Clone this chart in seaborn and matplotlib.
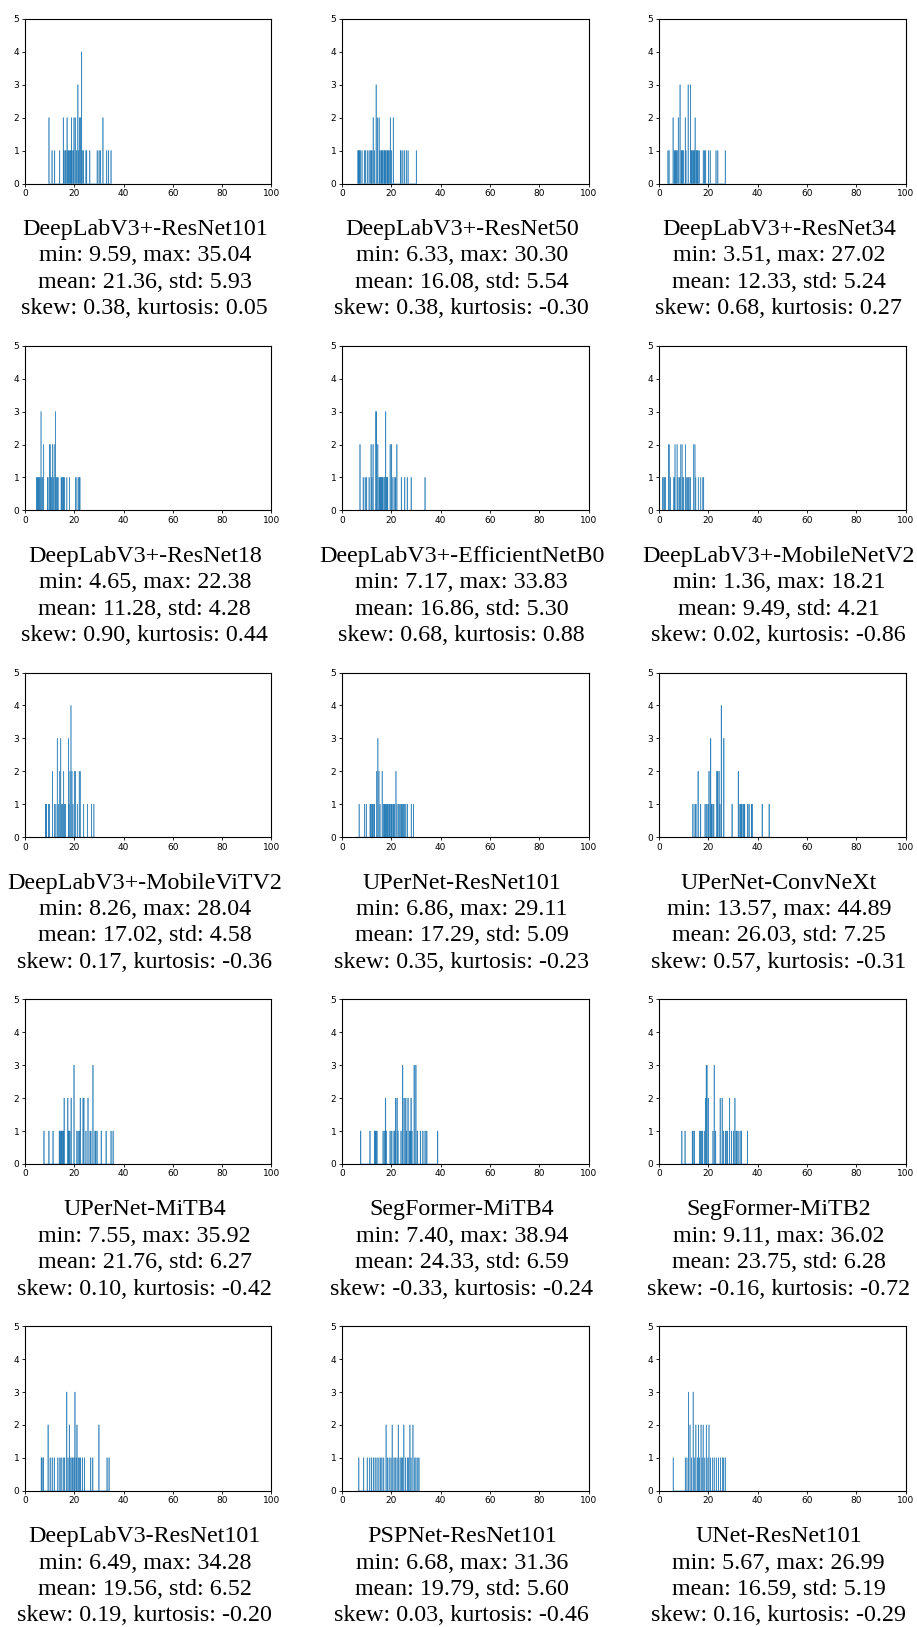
import matplotlib
matplotlib.use("Agg")
import matplotlib.pyplot as plt
import seaborn as sns

# Per-model distributions of the evaluation metric (one value per sample)
models = [
    "DeepLabV3+-ResNet101", "DeepLabV3+-ResNet50", "DeepLabV3+-ResNet34",
    "DeepLabV3+-ResNet18", "DeepLabV3+-EfficientNetB0", "DeepLabV3+-MobileNetV2",
    "DeepLabV3+-MobileViTV2", "UPerNet-ResNet101", "UPerNet-ConvNeXt",
    "UPerNet-MiTB4", "SegFormer-MiTB4", "SegFormer-MiTB2",
    "DeepLabV3-ResNet101", "PSPNet-ResNet101", "UNet-ResNet101",
]

vals_dlv3p_r101 = [9.59, 9.65, 11.1, 11.9, 14.0, 15.6, 15.6, 15.95, 16.3, 16.6, 17.0, 17.0,
                   17.4, 17.7, 18.0, 18.3, 18.6, 18.9, 18.9, 19.25, 19.6, 20.0, 20.0,
                   20.5, 20.5, 20.85, 21.3, 21.3, 21.3, 21.7, 22.1, 22.1, 22.5, 22.5,
                   22.9, 22.9, 22.9, 22.9, 23.25, 23.7, 24.7, 25.0, 26.2, 29.4, 30.1, 30.7,
                   31.5, 31.5, 33.1, 33.9, 35.04]
vals_dlv3p_r50 = [6.33, 6.6, 6.9, 7.2, 7.5, 8.2, 9.2, 9.6, 10.3, 10.9, 11.6, 11.9, 12.2,
                  12.7, 12.7, 13.2, 13.9, 13.9, 13.9, 14.3, 14.3, 15.0, 15.0, 15.35, 15.7,
                  16.0, 16.3, 16.6, 16.9, 17.2, 17.5, 17.8, 18.1, 18.4, 18.7, 19.0, 19.3,
                  19.6, 19.6, 20.0, 20.8, 20.8, 23.6, 23.9, 24.7, 25.4, 26.2, 26.9, 30.30]
vals_dlv3p_r34 = [3.51, 4.2, 5.8, 5.8, 6.2, 6.5, 6.8, 7.1, 7.5, 7.85, 7.85, 8.6, 8.6, 8.6,
                  9.0, 9.3, 9.6, 9.9, 10.7, 10.7, 10.95, 11.9, 11.9, 11.9, 12.7, 12.7, 12.7,
                  13.0, 13.3, 13.6, 13.9, 14.2, 14.45, 14.75, 14.75, 15.05, 15.35, 15.65,
                  15.95, 16.25, 18.0, 18.4, 18.8, 20.0, 20.8, 23.1, 23.9, 27.02]
vals_dlv3p_r18 = [4.65, 4.9, 5.15, 5.4, 5.65, 5.9, 6.15, 6.6, 6.6, 6.6, 6.9, 7.2, 7.5, 7.5,
                  9.1, 9.4, 9.8, 9.8, 10.2, 10.2, 10.5, 10.8, 11.1, 11.1, 11.45, 11.8, 11.8,
                  12.3, 12.3, 12.3, 12.6, 12.9, 13.2, 13.5, 14.6, 14.9, 15.2, 15.5, 15.8,
                  16.1, 16.9, 18.0, 20.5, 21.1, 21.8, 22.1, 22.38]
vals_dlv3p_effb0 = [7.17, 7.3, 8.6, 9.5, 9.9, 11.1, 11.9, 11.9, 12.2, 12.7, 12.7, 13.6, 13.6,
                    13.6, 13.9, 13.9, 13.9, 14.6, 14.6, 14.95, 15.25, 15.55, 15.85, 16.15,
                    16.45, 16.75, 17.05, 17.6, 17.6, 17.6, 17.95, 18.25, 18.55, 19.6, 19.6,
                    20.1, 20.1, 20.5, 21.4, 21.7, 22.3, 22.3, 24.1, 25.5, 26.4, 28.0, 33.83]
vals_dlv3p_mnv2 = [1.36, 2.0, 2.35, 2.7, 3.8, 3.8, 4.2, 4.2, 4.6, 6.05, 6.3, 6.55, 6.55,
                   7.3, 7.3, 7.7, 8.1, 8.5, 8.9, 8.9, 9.3, 9.3, 9.7, 10.1, 10.7, 10.7, 11.1,
                   11.5, 11.9, 12.3, 12.7, 14.05, 14.05, 14.6, 14.6, 15.0, 15.9, 17.0, 17.8,
                   18.21]
vals_dlv3p_mvitv2 = [8.26, 8.6, 8.85, 9.5, 9.9, 11.1, 11.1, 11.9, 12.6, 13.1, 13.1, 13.1,
                     13.6, 14.0, 14.0, 14.4, 14.4, 14.4, 14.8, 15.2, 15.6, 15.6, 16.0, 16.4,
                     17.6, 17.6, 17.6, 17.95, 18.3, 18.3, 18.7, 18.7, 18.7, 18.7, 19.1, 19.1,
                     19.5, 20.0, 20.0, 20.5, 20.5, 21.3, 22.1, 22.1, 22.5, 22.5, 23.7, 25.3,
                     27.0, 28.04]
vals_upn_r101 = [6.86, 9.1, 9.9, 11.4, 11.7, 12.0, 12.3, 12.6, 12.9, 13.2, 14.1, 14.1,
                 14.5, 14.5, 14.5, 14.9, 14.9, 15.5, 16.4, 16.4, 16.8, 17.1, 17.4, 17.7,
                 18.0, 18.3, 18.6, 18.9, 19.2, 19.5, 19.8, 20.1, 20.4, 20.7, 21.0, 21.3,
                 21.8, 21.8, 22.3, 22.9, 23.4, 23.8, 24.2, 24.6, 25.0, 25.4, 25.9, 26.5,
                 28.1, 29.11]
vals_upn_convnext = [13.57, 14.6, 14.95, 15.9, 15.9, 17.0, 18.6, 19.5, 20.0, 20.4, 20.4,
                     20.8, 20.8, 20.8, 21.2, 21.6, 22.2, 23.4, 23.4, 23.8, 23.8, 24.3, 24.3,
                     24.7, 25.3, 25.3, 25.3, 25.3, 26.4, 26.4, 26.4, 29.7, 32.2, 32.2, 32.8,
                     33.2, 33.6, 34.0, 34.4, 34.8, 35.9, 36.5, 37.4, 37.75, 41.9, 44.89]
vals_upn_mitb4 = [7.55, 9.8, 11.4, 13.8, 14.1, 14.4, 14.7, 15.0, 15.3, 15.6, 16.0, 16.0,
                  17.2, 17.2, 17.6, 17.95, 18.3, 18.7, 18.7, 19.9, 19.9, 19.9, 21.1, 21.7,
                  22.05, 22.5, 22.5, 23.6, 23.6, 24.0, 24.0, 24.8, 25.6, 25.6, 26.3, 26.7,
                  27.6, 27.6, 27.6, 28.4, 28.8, 29.2, 30.9, 32.9, 35.0, 35.92]
vals_seg_mitb4 = [7.40, 11.5, 13.1, 13.5, 13.9, 14.3, 16.8, 17.2, 17.6, 17.6, 18.0, 19.7,
                  20.1, 21.1, 21.45, 21.8, 21.8, 22.3, 22.3, 22.7, 24.1, 24.5, 24.5, 24.5,
                  25.3, 25.3, 25.7, 25.7, 26.2, 26.9, 26.9, 27.3, 27.7, 28.1, 28.1, 28.5,
                  29.45, 29.45, 29.45, 29.8, 29.8, 29.8, 30.5, 31.8, 32.8, 33.6, 34.5, 38.94]
vals_seg_mitb2 = [9.11, 10.7, 13.5, 13.9, 14.3, 16.4, 16.8, 17.2, 17.6, 18.4, 18.9, 18.9,
                  19.25, 19.25, 19.25, 19.55, 19.55, 19.55, 19.9, 19.9, 21.8, 22.3, 22.3,
                  22.3, 23.1, 24.9, 24.9, 25.7, 25.7, 26.2, 26.9, 27.3, 27.7, 28.5, 28.5,
                  29.3, 30.1, 30.9, 30.9, 31.35, 31.7, 32.2, 32.8, 33.4, 36.02]
vals_dlv3_r101 = [6.49, 6.9, 7.6, 9.3, 9.3, 10.2, 11.0, 12.0, 13.3, 14.0, 14.8, 15.6, 16.0,
                  16.9, 16.9, 16.9, 17.4, 18.1, 18.1, 18.6, 19.0, 19.5, 19.9, 20.3, 20.3,
                  20.3, 20.7, 21.1, 21.1, 21.6, 22.1, 22.6, 23.3, 24.0, 26.6, 27.5, 30.0,
                  30.0, 33.3, 34.28]
vals_psp_r101 = [6.68, 8.9, 10.2, 11.2, 12.0, 12.8, 13.5, 14.2, 14.9, 15.6, 16.3, 17.0,
                 17.8, 17.8, 18.5, 19.2, 19.8, 20.3, 20.3, 21.0, 21.7, 22.3, 22.8, 22.8,
                 23.5, 24.1, 24.6, 25.1, 25.1, 25.8, 26.5, 27.1, 27.6, 27.6, 28.1, 28.7,
                 28.7, 29.4, 30.0, 30.7, 31.36]
vals_unet_r101 = [5.67, 10.7, 11.4, 12.0, 12.0, 12.0, 12.6, 12.6, 13.2, 13.9, 13.9, 13.9,
                  14.4, 15.0, 15.0, 15.5, 16.0, 16.0, 16.5, 17.0, 17.0, 17.5, 18.0, 18.0,
                  18.6, 19.2, 19.2, 19.8, 20.3, 20.3, 21.0, 21.8, 22.5, 23.3, 24.2, 25.0,
                  25.8, 26.3, 26.99]

series = [
    vals_dlv3p_r101, vals_dlv3p_r50, vals_dlv3p_r34,
    vals_dlv3p_r18, vals_dlv3p_effb0, vals_dlv3p_mnv2,
    vals_dlv3p_mvitv2, vals_upn_r101, vals_upn_convnext,
    vals_upn_mitb4, vals_seg_mitb4, vals_seg_mitb2,
    vals_dlv3_r101, vals_psp_r101, vals_unet_r101,
]

# Reported summary statistics per model
stat_min = [9.59, 6.33, 3.51, 4.65, 7.17, 1.36, 8.26, 6.86, 13.57, 7.55, 7.40, 9.11, 6.49, 6.68, 5.67]
stat_max = [35.04, 30.30, 27.02, 22.38, 33.83, 18.21, 28.04, 29.11, 44.89, 35.92, 38.94, 36.02, 34.28, 31.36, 26.99]
stat_mean = [21.36, 16.08, 12.33, 11.28, 16.86, 9.49, 17.02, 17.29, 26.03, 21.76, 24.33, 23.75, 19.56, 19.79, 16.59]
stat_std = [5.93, 5.54, 5.24, 4.28, 5.30, 4.21, 4.58, 5.09, 7.25, 6.27, 6.59, 6.28, 6.52, 5.60, 5.19]
stat_skew = [0.38, 0.38, 0.68, 0.90, 0.68, 0.02, 0.17, 0.35, 0.57, 0.10, -0.33, -0.16, 0.19, 0.03, 0.16]
stat_kurt = [0.05, -0.30, 0.27, 0.44, 0.88, -0.86, -0.36, -0.23, -0.31, -0.42, -0.24, -0.72, -0.20, -0.46, -0.29]

x_ticks = [0, 20, 40, 60, 80, 100]
y_ticks = [0, 1, 2, 3, 4, 5]

W, H = 917, 1627
fig = plt.figure(figsize=(W / 100, H / 100), dpi=100)

ax_w, ax_h = 246.5, 164.5
col_left = [25, 342, 659]
row_top = [19, 345.8, 672.6, 999.4, 1326.2]

for i, vals in enumerate(series):
    r, c = divmod(i, 3)
    left, top = col_left[c], row_top[r]
    ax = fig.add_axes([left / W, 1 - (top + ax_h) / H, ax_w / W, ax_h / H])
    sns.histplot(x=vals, bins=100, ax=ax, color="#1f77b4", alpha=1.0,
                 linewidth=0.25, edgecolor="#1f77b4", snap=False)
    ax.set_xlim(0, 100)
    ax.set_ylim(0, 5)
    ax.set_xticks(x_ticks)
    ax.set_yticks(y_ticks)
    ax.set_xlabel("")
    ax.set_ylabel("")
    ax.tick_params(labelsize=6.5, length=2.5, width=0.6, pad=1.5)
    for sp in ax.spines.values():
        sp.set_linewidth(0.8)

    label = (f"{models[i]}\n"
             f"min: {stat_min[i]:.2f}, max: {stat_max[i]:.2f}\n"
             f"mean: {stat_mean[i]:.2f}, std: {stat_std[i]:.2f}\n"
             f"skew: {stat_skew[i]:.2f}, kurtosis: {stat_kurt[i]:.2f}")
    ax.annotate(label, xy=(0.5, 0), xycoords="axes fraction",
                xytext=(-2.5, -25.5), textcoords="offset points",
                ha="center", va="top", fontsize=17.3,
                family="Liberation Serif", linespacing=1.34)

fig.savefig("out.png", dpi=100)
